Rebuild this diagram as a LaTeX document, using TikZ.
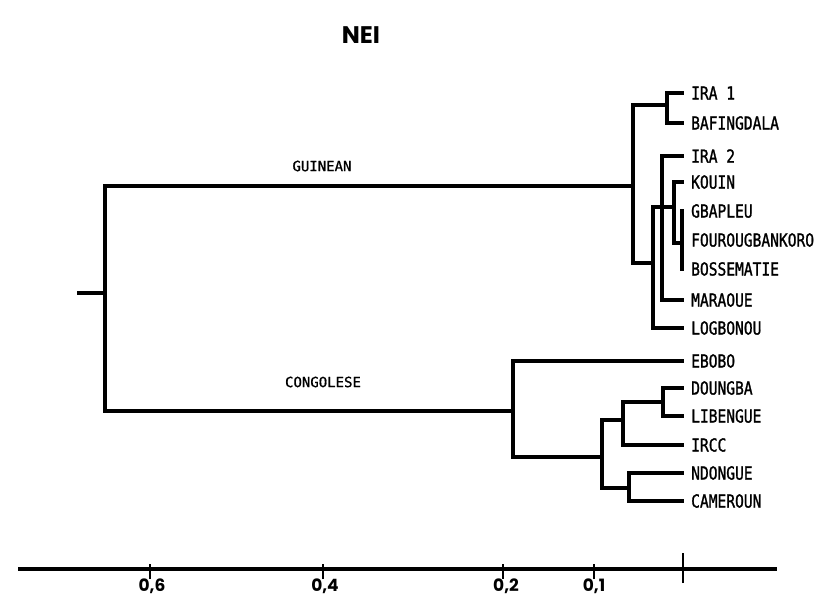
\documentclass[tikz,border=0pt]{standalone}
\usepackage{fontspec}
\newfontfamily\leaffont[FakeStretch=0.81,FakeBold=1.2]{DejaVu Sans Mono}
\newfontfamily\grpfont[FakeBold=1]{DejaVu Sans Mono}
\newfontfamily\geofont{Poppins}
\begin{document}
\begin{tikzpicture}[x=1pt,y=-1pt,
  br/.style={line width=3.4pt,line cap=rect,line join=miter},
  leaf/.style={anchor=west,inner xsep=9pt,inner ysep=0pt,font=\leaffont\fontsize{18}{18}\selectfont},
  grp/.style={inner sep=0pt,font=\grpfont\fontsize{14}{14}\selectfont},
  ticklab/.style={inner sep=0pt,anchor=base,font=\geofont\bfseries\fontsize{17}{17}\selectfont},
  tick/.style={line width=1.5pt}]
\useasboundingbox (0,0) rectangle (815,596);
\node[inner sep=0pt,anchor=base,font=\geofont\bfseries\fontsize{24}{24}\selectfont] (title) at (361,44) {NEI};
% leaves
\node[leaf] (ira1) at (682,93) {IRA 1};
\node[leaf] (baf) at (682,123) {BAFINGDALA};
\node[leaf] (ira2) at (682,156) {IRA 2};
\node[leaf] (kouin) at (682,182) {KOUIN};
\node[leaf] (gbap) at (682,211) {GBAPLEU};
\node[leaf] (fouro) at (682,240) {FOUROUGBANKORO};
\node[leaf] (bosse) at (682,269) {BOSSEMATIE};
\node[leaf] (mara) at (682,300) {MARAOUE};
\node[leaf] (logb) at (682,328) {LOGBONOU};
\node[leaf] (ebobo) at (682,361) {EBOBO};
\node[leaf] (doung) at (682,388) {DOUNGBA};
\node[leaf] (lib) at (682,416) {LIBENGUE};
\node[leaf] (ircc) at (682,445) {IRCC};
\node[leaf] (ndong) at (682,473) {NDONGUE};
\node[leaf] (cam) at (682,501) {CAMEROUN};
% internal nodes
\coordinate (r0) at (79,293);
\coordinate (r) at (105,293);
\coordinate (g) at (633,186);
\coordinate (n1) at (667,105);
\coordinate (n2) at (653,263);
\coordinate (n3) at (674,207);
\coordinate (n4) at (682,243);
\coordinate (n5) at (662,228);
\coordinate (c) at (513,411);
\coordinate (c1) at (602,457);
\coordinate (c2) at (623,420);
\coordinate (c3) at (629,488);
\coordinate (c4) at (663,402);
% group labels
\node[grp] (guin) at (322,166) {GUINEAN};
\node[grp] (cong) at (323,382) {CONGOLESE};
% tree
\draw[br] (r0) -- (r);
\draw[br] (r) |- (g);
\draw[br] (r) |- (c);
\draw[br] (g) |- (n1);
\draw[br] (g) |- (n2);
\draw[br] (n1) |- (ira1.west);
\draw[br] (n1) |- (baf.west);
\draw[br] (n2) |- (logb.west);
\draw[br] (n2) |- (n3);
\draw[br] (n3) |- (kouin.west);
\draw[br] (n3) |- (n4);
\draw[br] (n4) |- (gbap.west);
\draw[br] (n4) |- (fouro.west);
\draw[br] (n4) |- (bosse.west);
\draw[br] (n5) |- (ira2.west);
\draw[br] (n5) |- (mara.west);
\draw[br] (c) |- (ebobo.west);
\draw[br] (c) |- (c1);
\draw[br] (c1) |- (c2);
\draw[br] (c1) |- (c3);
\draw[br] (c2) |- (c4);
\draw[br] (c2) |- (ircc.west);
\draw[br] (c4) |- (doung.west);
\draw[br] (c4) |- (lib.west);
\draw[br] (c3) |- (ndong.west);
\draw[br] (c3) |- (cam.west);
% axis
\coordinate (ax0) at (18,569);
\coordinate (ax1) at (777,569);
\draw[line width=3.4pt] (ax0) -- (ax1);
\coordinate (t6) at (150,569);
\coordinate (t4) at (323,569);
\coordinate (t2) at (503,569);
\coordinate (t1) at (594,569);
\coordinate (t0) at (683,569);
\foreach \t in {t6,t4,t2,t1} \draw[tick] ([yshift=-10pt]\t) -- ([yshift=5pt]\t);
\draw[tick] ([yshift=-14pt]t0) -- ([yshift=16pt]t0);
\node[ticklab] (l6) at (152,591) {0,6};
\node[ticklab] (l4) at (325,591) {0,4};
\node[ticklab] (l2) at (506,591) {0,2};
\node[ticklab] (l1) at (594,591) {0,1};
\end{tikzpicture}
\end{document}
